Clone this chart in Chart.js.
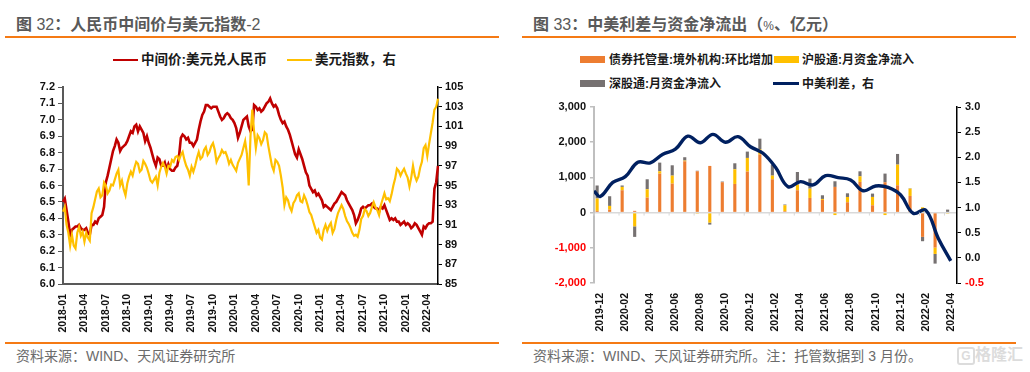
<!DOCTYPE html>
<html><head><meta charset="utf-8">
<script src="https://cdn.jsdelivr.net/npm/chart.js@4"></script>
<style>
html,body{margin:0;padding:0;background:#fff;width:1030px;height:372px;overflow:hidden}
body{position:relative;font-family:"Liberation Sans","Noto Sans CJK SC",sans-serif}
.abs{position:absolute;white-space:nowrap}
.title{font-size:16px;font-weight:700;color:#595959;top:15px;line-height:20px}
.title i{font-style:normal;font-weight:400}
.rule{height:2px;background:#F57A14;width:494px}
.foot{font-size:14px;color:#6b6b6b;top:347px;line-height:18px}
.leg{font-size:13.5px;font-weight:700;color:#1a1a1a;line-height:16px}
.leg2{font-size:12px;font-weight:700;color:#1a1a1a;line-height:16px}
.mark{position:absolute}
canvas{position:absolute}
</style></head><body>
<div class="abs title" style="left:16px">图 <i>32</i>：人民币中间价与美元指数<i>-2</i></div>
<div class="abs rule" style="left:5px;top:36px"></div>
<div class="abs title" style="left:533px">图 <i>33</i>：中美利差与资金净流出（<i style="font-size:12px">%</i>、亿元）</div>
<div class="abs rule" style="left:522px;top:36px"></div>

<div class="mark" style="left:113px;top:59px;width:25px;height:2px;background:#C00000"></div>
<div class="abs leg" style="left:141px;top:52px">中间价:美元兑人民币</div>
<div class="mark" style="left:287px;top:59px;width:25px;height:2px;background:#FFC000"></div>
<div class="abs leg" style="left:315px;top:52px">美元指数，右</div>

<div class="mark" style="left:580px;top:56px;width:25px;height:7px;background:#ED7D31"></div>
<div class="abs leg2" style="left:609px;top:52px">债券托管量:境外机构:环比增加</div>
<div class="mark" style="left:774px;top:56px;width:25px;height:7px;background:#FFC000"></div>
<div class="abs leg2" style="left:802px;top:52px">沪股通:月资金净流入</div>
<div class="mark" style="left:580px;top:80px;width:25px;height:7px;background:#767171"></div>
<div class="abs leg2" style="left:609px;top:76px">深股通:月资金净流入</div>
<div class="mark" style="left:773px;top:82px;width:26px;height:3px;background:#002060"></div>
<div class="abs leg2" style="left:802px;top:76px">中美利差，右</div>

<canvas id="c1" style="left:0;top:75px"></canvas>
<canvas id="c2" style="left:520px;top:95px"></canvas>

<div class="abs rule" style="left:5px;top:342px"></div>
<div class="abs foot" style="left:16px">资料来源：WIND、天风证券研究所</div>
<div class="abs rule" style="left:522px;top:342px"></div>
<div class="abs foot" style="left:533px">资料来源：WIND、天风证券研究所。注：托管数据到 3 月份。</div>

<div class="abs" style="left:957px;top:347px;width:14px;height:14px;border:2px solid #dcdcdc;border-radius:3px;color:#dcdcdc;font-size:12px;font-weight:700;line-height:14px;text-align:center">G</div>
<div class="abs" style="left:975px;top:345px;font-size:16px;font-weight:700;color:#dcdcdc;line-height:20px">格隆汇</div>

<script>
// Left chart: four readings per month, 2018-01 to 2022-05
const months1 = ["2018-01","2018-02","2018-03","2018-04","2018-05","2018-06","2018-07","2018-08","2018-09","2018-10","2018-11","2018-12",
"2019-01","2019-02","2019-03","2019-04","2019-05","2019-06","2019-07","2019-08","2019-09","2019-10","2019-11","2019-12",
"2020-01","2020-02","2020-03","2020-04","2020-05","2020-06","2020-07","2020-08","2020-09","2020-10","2020-11","2020-12",
"2021-01","2021-02","2021-03","2021-04","2021-05","2021-06","2021-07","2021-08","2021-09","2021-10","2021-11","2021-12",
"2022-01","2022-02","2022-03","2022-04","2022-05"];
const cnyMid = [
6.50,6.52,6.45,6.38,6.30,6.33,6.34,6.35,6.35,6.36,6.34,6.33,6.33,6.34,6.31,6.30,6.36,6.36,6.38,6.37,
6.40,6.41,6.42,6.47,6.62,6.66,6.71,6.76,6.81,6.84,6.88,6.86,6.81,6.83,6.84,6.85,6.87,6.90,6.93,6.92,
6.96,6.97,6.93,6.96,6.94,6.92,6.87,6.90,6.86,6.83,6.79,6.75,6.72,6.77,6.76,6.72,6.72,6.74,6.70,6.73,
6.70,6.69,6.69,6.71,6.72,6.78,6.89,6.91,6.90,6.88,6.89,6.86,6.86,6.84,6.86,6.88,6.94,6.99,7.03,7.05,
7.09,7.09,7.08,7.07,7.08,7.08,7.08,7.05,7.02,7.00,7.01,7.03,7.04,7.03,7.01,7.00,6.98,6.95,6.89,6.92,
6.96,7.00,7.01,7.02,6.96,6.93,6.94,7.09,7.08,7.06,7.07,7.05,7.06,7.08,7.10,7.11,7.13,7.10,7.08,7.09,
7.07,7.03,7.00,6.98,6.99,6.96,6.94,6.91,6.87,6.83,6.79,6.77,6.82,6.79,6.76,6.72,6.68,6.66,6.60,6.58,
6.56,6.57,6.54,6.55,6.53,6.51,6.47,6.48,6.47,6.46,6.45,6.47,6.49,6.50,6.52,6.54,6.56,6.55,6.54,6.51,
6.49,6.47,6.45,6.42,6.37,6.39,6.42,6.46,6.47,6.46,6.47,6.48,6.48,6.49,6.47,6.46,6.46,6.44,6.47,6.46,
6.48,6.45,6.42,6.39,6.40,6.39,6.40,6.38,6.38,6.36,6.37,6.38,6.36,6.37,6.36,6.34,6.35,6.37,6.36,6.34,
6.32,6.30,6.35,6.34,6.36,6.37,6.37,6.38,6.58,6.62,6.72];
const usdIndex = [
92.35,92.8,91.0,90.2,88.9,90.0,88.9,88.6,90.2,90.8,89.9,90.3,89.3,90.2,89.7,89.4,92.2,92.8,93.6,94.4,
94.7,93.8,94.0,95.3,95.0,94.2,94.5,95.1,95.0,95.6,96.2,96.6,95.0,95.5,94.6,94.0,95.2,95.9,96.4,96.0,
96.8,97.4,97.2,96.4,96.6,97.5,97.2,96.8,96.2,95.5,95.3,95.6,95.9,95.0,96.3,96.9,97.3,96.9,96.2,97.0,
96.9,97.6,97.4,97.9,98.0,97.6,98.1,98.4,97.6,97.0,96.6,96.0,96.9,96.4,97.0,97.8,98.4,97.7,97.9,98.6,
98.9,98.1,98.4,99.0,99.3,98.6,97.4,97.8,98.1,98.6,98.3,98.4,97.9,97.2,97.6,97.1,96.8,96.5,97.3,97.7,
98.1,98.8,99.5,98.2,95.0,100.0,102.7,100.5,98.8,100.1,99.8,99.2,99.6,100.4,100.2,99.0,98.0,97.0,96.5,97.6,
97.4,97.0,96.0,94.8,93.0,93.8,93.5,92.8,92.4,93.2,93.5,94.0,94.2,93.4,93.3,94.0,93.6,93.0,92.3,92.0,
91.4,90.8,90.2,90.5,89.7,89.5,90.5,91.0,90.4,90.9,91.2,90.2,90.6,91.5,92.2,92.6,93.0,92.6,91.9,91.4,
91.1,90.7,90.2,89.9,90.0,89.8,90.5,91.6,91.9,92.6,92.4,91.9,92.2,92.8,93.3,92.8,92.5,92.0,93.0,93.6,
94.2,93.6,93.7,93.4,94.1,95.0,95.7,96.7,96.5,96.0,96.4,96.7,96.2,95.8,94.9,95.8,97.0,96.0,95.5,95.9,
96.8,97.4,98.8,99.1,98.0,99.2,100.3,101.4,102.7,103.0,103.8];
const labels1 = cnyMid.map((_,i)=>months1[Math.floor(i/4)]);

// Right chart: monthly
const months2 = ["2019-12","2020-01","2020-02","2020-03","2020-04","2020-05","2020-06","2020-07","2020-08","2020-09","2020-10","2020-11","2020-12",
"2021-01","2021-02","2021-03","2021-04","2021-05","2021-06","2021-07","2021-08","2021-09","2021-10","2021-11","2021-12","2022-01","2022-02","2022-03","2022-04"];
const bondCustody = [50,85,635,50,426,1108,824,1458,1174,1326,862,814,1165,1650,947,40,634,416,360,730,294,871,208,862,776,473,-690,-994,0];
const shConnect = [350,105,95,-390,237,66,227,20,-30,-284,0,417,388,150,104,170,160,265,28,-70,150,160,237,-70,587,208,150,-180,-30];
const szConnect = [370,275,40,-300,284,246,293,95,15,-57,20,170,180,300,312,20,360,284,104,160,104,142,95,246,303,10,-123,-275,85];
const spreadPos = [-0.5,0,1,2,3,4,5,6,7,8,9,10,11,12,13,14,15,16,17,18,19,20,21,22,23,24,25,26,27,28];
const spread = [1.33,1.22,1.50,1.615,1.90,1.89,2.06,2.16,2.42,2.29,2.456,2.30,2.41,2.21,2.08,1.80,1.416,1.515,1.45,1.635,1.595,1.55,1.335,1.43,1.40,1.25,0.886,0.95,0.39,-0.06];

const FONT = {family:'"Liberation Sans","Noto Sans CJK SC",sans-serif',weight:'700'};
const TICK = '#111111';
Chart.defaults.animation = false;
Chart.defaults.responsive = false;
Chart.defaults.font.family = FONT.family;

function setSize(id,w,h){const c=document.getElementById(id);c.width=w;c.height=h;c.style.width=w+'px';c.style.height=h+'px';return c;}

new Chart(setSize('c1',510,265),{
  type:'line',
  data:{labels:labels1,datasets:[
    {label:'中间价:美元兑人民币',data:cnyMid,yAxisID:'y',borderColor:'#C00000',borderWidth:2.6,pointRadius:0,tension:0,order:2},
    {label:'美元指数，右',data:usdIndex,yAxisID:'y1',borderColor:'#FFC000',borderWidth:2.2,pointRadius:0,tension:0,order:1}
  ]},
  options:{
    layout:{padding:{top:12,left:0,right:0,bottom:0}},
    plugins:{legend:{display:false},tooltip:{enabled:false}},
    scales:{
      x:{type:'category',offset:false,
        grid:{display:false},
        border:{color:'#595959',width:2},
        ticks:{autoSkip:false,minRotation:90,maxRotation:90,padding:2,color:TICK,font:{...FONT,size:10.5},
          callback(v,i){return i%12===0?this.getLabelForValue(v):'';}},
        afterFit(s){s.height=56;}},
      y:{position:'left',min:6.0,max:7.2,
        grid:{drawOnChartArea:false,color:'#595959',tickLength:5},
        border:{color:'#595959',width:2},
        ticks:{stepSize:0.1,padding:3,color:TICK,font:{...FONT,size:11},callback:v=>v.toFixed(1)},
        afterFit(s){s.width=63;}},
      y1:{position:'right',min:85,max:105,
        grid:{drawOnChartArea:false,color:'#000',tickLength:4},
        border:{color:'#000',width:1.5},
        ticks:{stepSize:2,padding:3,color:TICK,font:{...FONT,size:11}},
        afterFit(s){s.width=72;}}
    }
  }
});

const zeroTicks={id:'zeroTicks',afterDatasetsDraw(ch){
  const {ctx,scales:{x,y}}=ch;const y0=y.getPixelForValue(0);
  ctx.save();ctx.strokeStyle='#D9D9D9';ctx.lineWidth=1;ctx.beginPath();
  for(let i=0;i<=months2.length;i+=2){const p=x.getPixelForValue(i)-x.width/months2.length/2;ctx.moveTo(p,y0);ctx.lineTo(p,y0+3);}
  ctx.stroke();ctx.restore();
}};

new Chart(setSize('c2',510,245),{
  data:{labels:months2,datasets:[
    {type:'bar',label:'债券托管量:境外机构:环比增加',data:bondCustody,backgroundColor:'#ED7D31',stack:'s',yAxisID:'y',xAxisID:'x',order:1,barPercentage:0.5,categoryPercentage:1},
    {type:'bar',label:'沪股通:月资金净流入',data:shConnect,backgroundColor:'#FFC000',stack:'s',yAxisID:'y',xAxisID:'x',order:1,barPercentage:0.5,categoryPercentage:1},
    {type:'bar',label:'深股通:月资金净流入',data:szConnect,backgroundColor:'#767171',stack:'s',yAxisID:'y',xAxisID:'x',order:1,barPercentage:0.5,categoryPercentage:1},
    {type:'line',label:'中美利差，右',data:spread.map((v,i)=>({x:spreadPos[i],y:v})),xAxisID:'x2',yAxisID:'y1',borderColor:'#002060',borderWidth:3.4,pointRadius:0,tension:0.4,order:0}
  ]},
  plugins:[zeroTicks],
  options:{
    layout:{padding:{top:12,left:0,right:0,bottom:0}},
    plugins:{legend:{display:false},tooltip:{enabled:false}},
    scales:{
      x:{type:'category',offset:true,stacked:true,
        grid:{display:false},border:{display:false},
        ticks:{autoSkip:false,minRotation:90,maxRotation:90,padding:2,color:TICK,font:{...FONT,size:10.5},
          callback(v,i){return i%2===0?this.getLabelForValue(v):'';}},
        afterFit(s){s.height=57;}},
      x2:{type:'linear',display:false,min:-0.5,max:28.5},
      y:{position:'left',min:-2000,max:3000,stacked:true,
        grid:{color:c=>c.tick&&c.tick.value===0?'#D9D9D9':'rgba(0,0,0,0)',tickColor:'#BFBFBF',tickLength:4,lineWidth:1.5},
        border:{color:'#BFBFBF',width:2},
        ticks:{stepSize:1000,padding:4,color:c=>c.tick.value<0?'#FF0000':TICK,font:{...FONT,size:11},
          callback:v=>v.toLocaleString('en-US')},
        afterFit(s){s.width=74;}},
      y1:{position:'right',min:-0.5,max:3,
        grid:{drawOnChartArea:false,color:'#000',tickLength:4},
        border:{color:'#000',width:1.5},
        ticks:{stepSize:0.5,padding:4,color:c=>c.tick.value<0?'#FF0000':TICK,font:{...FONT,size:11},callback:v=>v.toFixed(1)},
        afterFit(s){s.width=73;}}
    }
  }
});
</script>
</body></html>
